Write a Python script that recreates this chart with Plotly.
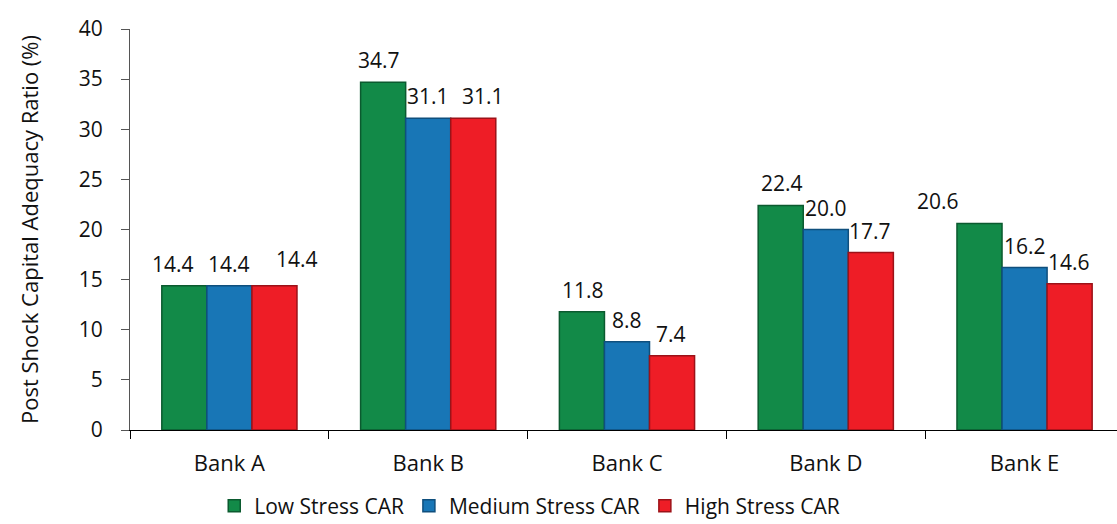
import plotly.graph_objects as go

# Post-shock capital adequacy ratios by bank and stress scenario
banks = ["Bank A", "Bank B", "Bank C", "Bank D", "Bank E"]
low_stress = [14.4, 34.7, 11.8, 22.4, 20.6]
medium_stress = [14.4, 31.1, 8.8, 20.0, 16.2]
high_stress = [14.4, 31.1, 7.4, 17.7, 14.6]

series_names = ["Low Stress CAR", "Medium Stress CAR", "High Stress CAR"]
series_values = [low_stress, medium_stress, high_stress]
fill_colors = ["#128a48", "#1876b6", "#ee1d26"]
edge_colors = ["#0b5a2f", "#0f4f7d", "#9c1218"]

# horizontal nudges (px) for a few value labels, keyed by (series, bank)
label_nudge = {(0, 0): (-12, 0), (2, 0): (24, 5), (0, 1): (-5, 0),
               (2, 1): (11, 0), (0, 4): (-43, 0)}

FONT = "Open Sans"
SIZE = 21
fig = go.Figure()

for s, (name, vals) in enumerate(zip(series_names, series_values)):
    fig.add_trace(go.Bar(
        x=banks, y=vals, name=name,
        marker=dict(color=fill_colors[s],
                    line=dict(color=edge_colors[s], width=1.5)),
        hoverinfo="x+y+name",
    ))

# value labels above each bar
slot = 44  # px width of one bar slot within a group
for s, vals in enumerate(series_values):
    for b, (bank, v) in enumerate(zip(banks, vals)):
        dx, dy = label_nudge.get((s, b), (0, 0))
        fig.add_annotation(
            x=bank, y=v, xref="x", yref="y",
            text=f"{v:.1f}", showarrow=False,
            xshift=(s - 1) * slot + dx, yshift=22 + dy,
            font=dict(family=FONT, size=SIZE, color="#111111"),
        )

fig.update_layout(
    width=1117, height=524,
    margin=dict(l=130, r=0, t=29, b=94, autoexpand=False),
    paper_bgcolor="white", plot_bgcolor="white",
    barmode="group", bargap=0.32, bargroupgap=0,
    font=dict(family=FONT, size=SIZE, color="#111111"),
    showlegend=True,
    legend=dict(orientation="h", x=0.405, xanchor="center", y=-0.19,
                yanchor="middle", font=dict(family=FONT, size=SIZE),
                itemwidth=30, traceorder="normal"),
    xaxis=dict(range=[-0.5, 4.465], showline=True, linecolor="#000000",
               linewidth=1, ticks="outside", tickson="boundaries",
               ticklen=8, tickcolor="#000000", ticklabelstandoff=14,
               tickfont=dict(family=FONT, size=22), automargin=False,
               showgrid=False, zeroline=False, fixedrange=True),
    yaxis=dict(range=[0, 40], dtick=5, showline=True, linecolor="#555555",
               linewidth=1, ticks="outside", ticklen=8, tickcolor="#555555",
               ticklabelstandoff=14, showgrid=False, zeroline=False,
               tickfont=dict(family=FONT, size=SIZE), automargin=False,
               title=dict(text="Post Shock Capital Adequacy Ratio (%)",
                          font=dict(family=FONT, size=22), standoff=34)),
)

fig.write_html("out.html")
